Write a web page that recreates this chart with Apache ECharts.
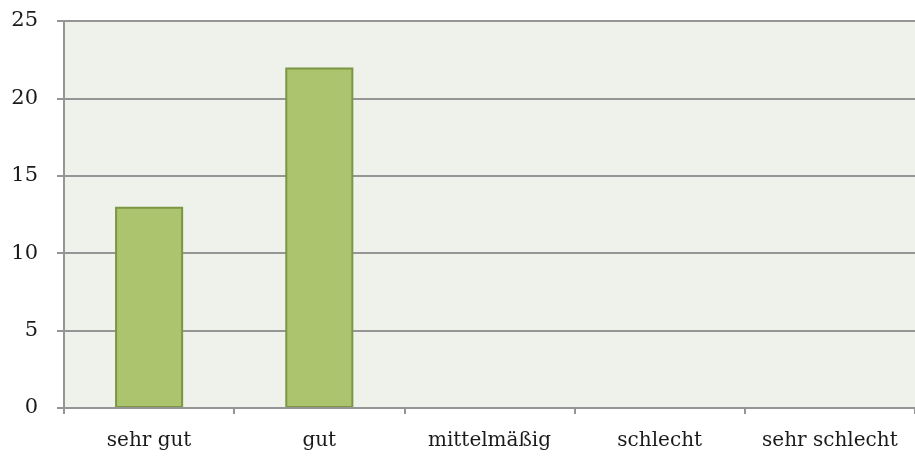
<!DOCTYPE html>
<html>
<head>
<meta charset="utf-8">
<script src="https://cdn.jsdelivr.net/npm/echarts@6/dist/echarts.min.js"></script>
<style>
  html, body { margin: 0; padding: 0; background: #fff; }
  #chart { width: 915px; height: 461px; }
</style>
</head>
<body>
<div id="chart"></div>
<script>
var categories = ['sehr gut', 'gut', 'mittelmäßig', 'schlecht', 'sehr schlecht'];
var counts = [13, 22, 0, 0, 0];
var yTicks = { min: 0, max: 25, interval: 5 };

function initRatingChart() {
    var _chart = echarts.init(document.getElementById('chart'));
    var axisGray = '#959595';
    var labelFont = 'DejaVu Serif';
    // zero bars get no border, otherwise a thin green line shows on the axis
    var barData = counts.map(function (v) {
        return v > 0 ? v : { value: v, itemStyle: { borderWidth: 0 } };
    });
    var option = {
        animation: false,
        grid: {
            left: 64,
            right: -4,
            top: 21,
            bottom: 53,
            show: true,
            backgroundColor: '#eff1eb',
            borderWidth: 0
        },
        xAxis: {
            type: 'category',
            data: categories,
            z: 3,
            axisLine: { lineStyle: { color: axisGray, width: 2 } },
            axisTick: { show: true, length: 6, lineStyle: { color: axisGray, width: 2 } },
            axisLabel: { interval: 0, color: '#1a1a1a', fontFamily: labelFont, fontSize: 20, margin: 23 }
        },
        yAxis: {
            type: 'value',
            min: yTicks.min,
            max: yTicks.max,
            interval: yTicks.interval,
            axisLine: { show: true, lineStyle: { color: axisGray, width: 2 } },
            axisTick: { show: true, length: 7, lineStyle: { color: axisGray, width: 2 } },
            axisLabel: {
                color: '#1a1a1a', fontFamily: labelFont, fontSize: 21, margin: 26,
                padding: [8, 0, 0, 0]
            },
            splitLine: { show: true, lineStyle: { color: axisGray, width: 2 } }
        },
        series: [{
            type: 'bar',
            data: barData,
            barWidth: '40%',
            itemStyle: {
                color: '#abc46d',
                borderColor: '#7b9644',
                borderWidth: 2
            }
        }]
    };
    _chart.setOption(option);
}
initRatingChart();
</script>
</body>
</html>
